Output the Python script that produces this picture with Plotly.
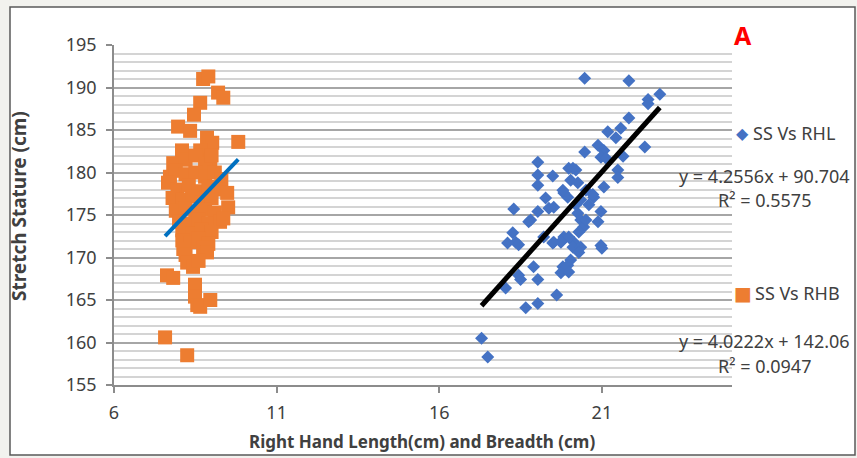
import plotly.graph_objects as go

# ---------------- data ----------------
rhl_x = [20.47, 21.83, 22.78, 22.42, 22.42, 21.83, 21.58, 21.18, 21.43, 22.32, 20.88, 21.06, 20.97, 20.47,
         21.65, 19.03, 19.03, 19.03, 19.49, 19.98, 20.20, 21.49, 21.49, 20.04, 20.26, 19.27, 19.52, 19.83,
         19.95, 20.75, 21.06, 18.29, 19.03, 18.81, 20.97, 20.88, 20.26, 20.35, 20.44, 18.26, 18.35, 18.10,
         19.83, 19.52, 20.97, 20.14, 20.11, 18.44, 19.21, 19.80, 18.90, 18.44, 18.50, 19.03, 18.04, 19.61,
         19.03, 18.66, 19.80, 19.74, 17.30, 17.49, 20.51, 20.29, 19.98, 20.35, 20.29, 20.04, 19.95, 19.98,
         21.00, 19.37, 18.75, 19.80, 20.72, 20.11, 21.12, 19.74, 19.49, 20.60, 20.20, 20.51, 20.35]
rhl_y = [191.1, 190.8, 189.2, 188.6, 188.1, 186.4, 185.2, 184.8, 184.1, 183.0, 183.2, 182.6, 181.8, 182.4,
         181.9, 181.2, 179.7, 178.5, 179.6, 180.5, 180.3, 180.3, 179.4, 179.1, 178.8, 177.0, 175.9, 177.6,
         177.1, 177.1, 178.3, 175.7, 175.4, 174.4, 175.4, 174.2, 175.2, 174.4, 173.6, 172.9, 171.8, 171.7,
         172.4, 171.8, 171.4, 171.8, 171.2, 171.5, 172.4, 172.1, 168.9, 167.9, 167.4, 167.4, 166.4, 165.6,
         164.6, 164.1, 168.9, 168.2, 160.5, 158.3, 174.4, 173.0, 172.4, 171.2, 170.6, 169.7, 169.1, 168.3,
         171.1, 175.8, 174.2, 177.9, 177.4, 180.5, 181.7, 171.8, 171.7, 176.2, 176.2, 177.9, 176.8]

rhb_x = [8.74, 8.90, 9.20, 9.36, 8.65, 8.46, 7.97, 8.34, 9.82, 8.86, 9.02, 8.09, 8.65, 8.96,
         7.82, 8.20, 8.50, 8.80, 9.00,
         7.72, 7.90, 8.20, 8.50, 8.80, 9.10, 9.30,
         7.66, 7.95, 8.30, 8.60, 8.90, 9.20,
         7.80, 8.10, 8.40, 8.70, 9.00, 9.48,
         7.90, 8.20, 8.50, 8.80, 9.10, 9.51,
         8.00, 8.30, 8.60, 8.90, 9.26,
         8.10, 8.40, 8.70, 9.00, 9.36,
         8.10, 8.35, 8.60, 8.90,
         8.13, 8.74, 8.86,
         8.20, 8.25, 8.43, 8.60,
         7.63, 7.82,
         8.49, 8.49, 8.56, 8.65, 8.96,
         7.57, 8.25]
rhb_y = [191.0, 191.3, 189.4, 188.8, 188.2, 186.8, 185.4, 184.9, 183.6, 184.1, 183.5, 182.6, 182.6, 181.5,
         181.1, 181.5, 182.0, 181.0, 182.0,
         179.5, 180.2, 179.8, 180.0, 179.5, 180.0, 179.2,
         178.8, 178.0, 178.5, 177.8, 178.3, 178.0,
         177.0, 176.8, 177.2, 176.5, 177.0, 177.6,
         175.5, 175.8, 175.2, 175.6, 175.3, 175.9,
         174.2, 174.0, 174.5, 174.0, 174.2,
         173.2, 172.8, 173.3, 173.0, 174.6,
         172.0, 171.8, 172.2, 171.6,
         171.0, 171.2, 170.6,
         170.3, 169.4, 168.9, 169.6,
         167.9, 167.6,
         166.8, 165.4, 164.4, 164.2, 165.0,
         160.6, 158.5]

series_names = ["SS Vs RHL", "SS Vs RHB"]
trend_slope = [4.2556, 4.0222]
trend_intercept = [90.704, 142.06]
trend_r2 = [0.5575, 0.0947]

y_ticks = [155, 160, 165, 170, 175, 180, 185, 190, 195]
x_ticks = [6, 11, 16, 21]

BLUE = "#4472C4"
ORANGE = "#ED7D31"
FONT = "Noto Sans"
TXT = "#404040"

fig = go.Figure()

fig.add_trace(go.Scatter(x=rhl_x, y=rhl_y, mode="markers", name=series_names[0],
                         marker=dict(symbol="diamond", size=10, color=BLUE), showlegend=False))
fig.add_trace(go.Scatter(x=rhb_x, y=rhb_y, mode="markers", name=series_names[1],
                         marker=dict(symbol="square", size=14, color=ORANGE), showlegend=False))

# trendlines spanning each series' x range
for xs, k, col, w in [(rhl_x, 0, "black", 5), (rhb_x, 1, "#0070C0", 4)]:
    tx = [min(xs), max(xs)]
    ty = [trend_slope[k] * v + trend_intercept[k] for v in tx]
    fig.add_trace(go.Scatter(x=tx, y=ty, mode="lines", line=dict(color=col, width=w),
                             showlegend=False, hoverinfo="skip"))

# plot area in px: x 114..732, y 45..385
L, R, T, B = 114, 732, 45, 385
W, H = R - L, B - T
def px(x): return (x - L) / W
def py(y): return (B - y) / H

fig.add_shape(type="rect", xref="paper", yref="paper",
              x0=px(10), x1=px(855), y0=py(455), y1=py(7),
              fillcolor="white", line=dict(color="#595959", width=1.5), layer="below")

def note(x, y, text, size=18, color=TXT, family=FONT, xanchor="center", **kw):
    return dict(x=px(x), y=py(y), xref="paper", yref="paper", text=text,
                font=dict(size=size, color=color, family=family), showarrow=False,
                xanchor=xanchor, yanchor="middle", **kw)

ann = [
    note(743, 35, "<b>A</b>", size=25, color="#FF0000"),
    note(742, 133, "◆", size=16, color=BLUE, family="DejaVu Sans"),
    note(751, 133, series_names[0], xanchor="left"),
    note(743, 293, "■", size=19, color=ORANGE, family="DejaVu Sans"),
    note(753, 293, series_names[1], xanchor="left"),
]
for k, (ye, yr) in enumerate([(176, 200), (341, 366)]):
    ann.append(note(764, ye, f"y = {trend_slope[k]}x + {trend_intercept[k]}"))
    ann.append(note(764, yr, f"R² = {trend_r2[k]}"))
ann.append(note(19, 206, "<b>Stretch Stature (cm)</b>", size=19, textangle=-90))
ann.append(note(422, 441, "<b>Right Hand Length(cm) and Breadth (cm)</b>", size=17))

fig.update_layout(
    width=857, height=458,
    margin=dict(l=L, r=857 - R, t=T, b=458 - B),
    paper_bgcolor="#f2f2ee", plot_bgcolor="white",
    annotations=ann, showlegend=False,
    font=dict(family=FONT, color=TXT),
)
fig.update_xaxes(range=[6, 25], tickvals=x_ticks, showgrid=False, zeroline=False,
                 showline=True, linecolor="#8c8c8c", linewidth=1.5,
                 ticks="outside", ticklen=6, tickcolor="#8c8c8c", tickwidth=1.5,
                 tickfont=dict(size=18, color=TXT, family=FONT), ticklabelstandoff=5)
fig.update_yaxes(range=[155, 195], tickvals=y_ticks, showgrid=True, gridcolor="#a6a6a6", gridwidth=1.5,
                 zeroline=False, showline=True, linecolor="#8c8c8c", linewidth=1.5,
                 ticks="outside", ticklen=6, tickcolor="#8c8c8c", tickwidth=1.5,
                 minor=dict(dtick=1, tick0=155, showgrid=True, gridcolor="#d4d4d4", gridwidth=1.5),
                 tickfont=dict(size=18, color=TXT, family=FONT), ticklabelstandoff=6)

fig.write_html("out.html", config={"displayModeBar": False},
               post_script="document.body.style.margin='0px';")
